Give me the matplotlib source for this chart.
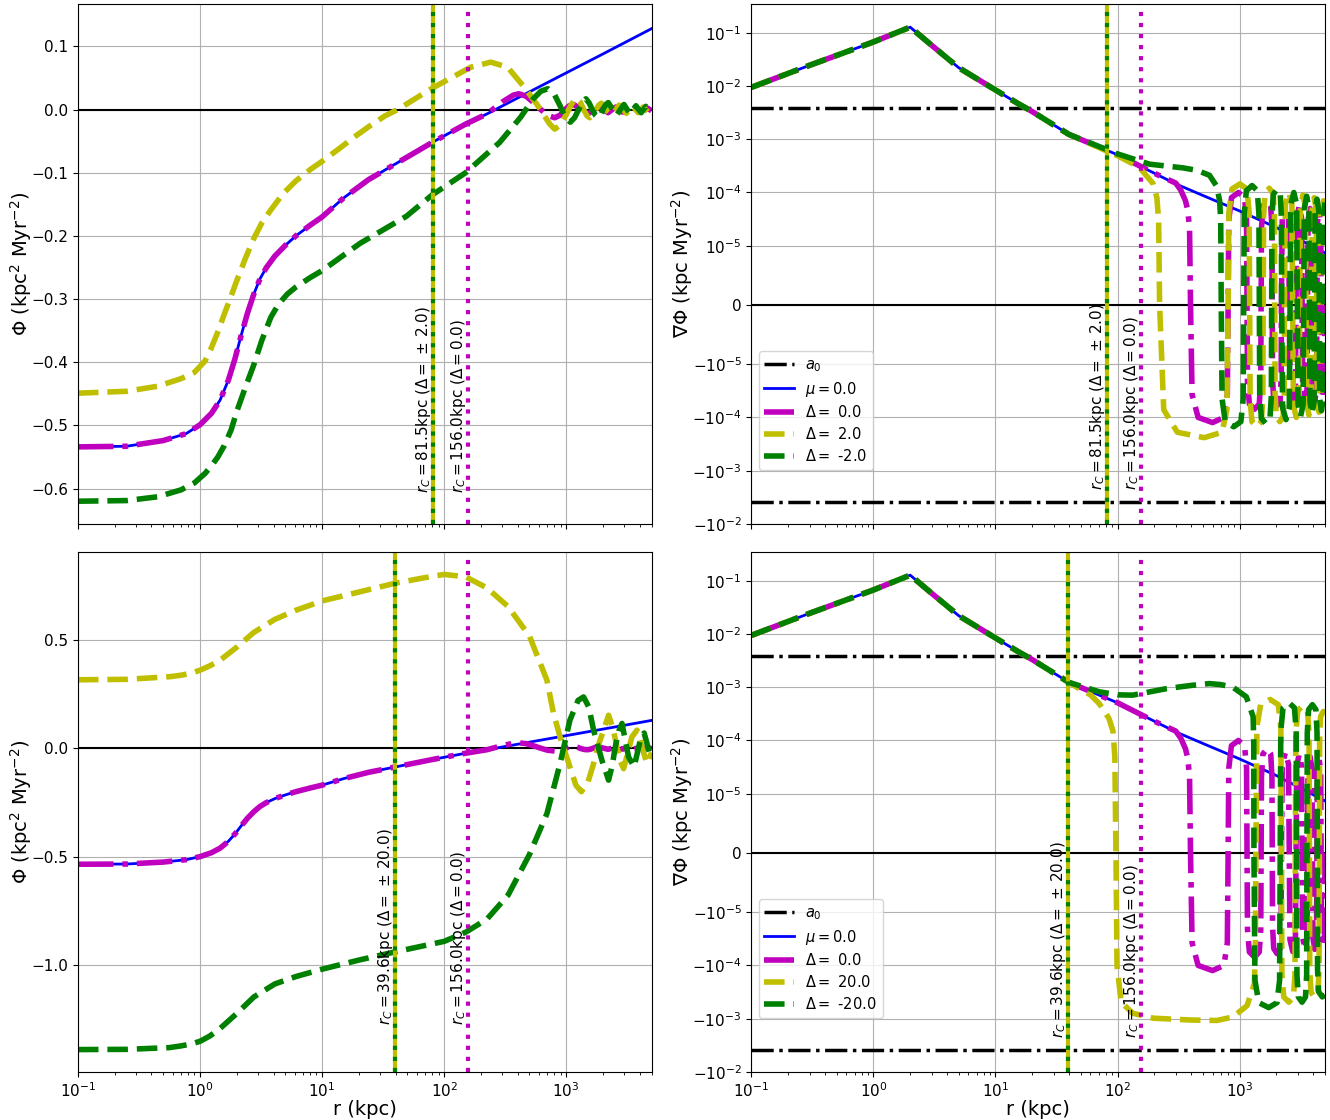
import numpy as np
import matplotlib
matplotlib.use('Agg')
import matplotlib.pyplot as plt

# ---------------- potential Phi (left column) ----------------
phi_r_mu = [0.1, 0.25, 0.5, 0.77, 1.0, 1.24, 1.46, 1.71, 1.93, 2.17, 2.45, 2.76, 3.1, 3.5, 4.1,
            5.0, 6.1, 8.0, 10, 15, 24, 49, 80, 150, 224, 500, 1000, 2000, 5000]
phi_mu = [-0.534, -0.533, -0.524, -0.513, -0.499, -0.481, -0.460, -0.428, -0.395, -0.358, -0.322,
          -0.292, -0.268, -0.250, -0.232, -0.215, -0.200, -0.183, -0.170, -0.140, -0.111, -0.076,
          -0.052, -0.023, -0.007, 0.028, 0.058, 0.088, 0.128]
n_phi_head = 25  # Delta = 0 follows mu = 0 up to r = 224 kpc

phi_r_d0_tail = [300, 370, 410, 470, 540, 620, 700, 805, 890, 980, 1060, 1150, 1240, 1325, 1410,
                 1500, 1590, 1675, 1760, 1850, 2025, 2200, 2375, 2550, 2725, 2900, 3075, 3250,
                 3425, 3600, 3775, 3950, 4125, 4300, 4475, 4650, 4825, 5000]
phi_d0_tail = [0.012, 0.023, 0.025, 0.021, 0.011, 0.0, -0.009, -0.013, -0.009, 0.0, 0.006, 0.008,
               0.004, -0.002, -0.006, -0.007, -0.004, 0.001, 0.005, 0.006, 0.0, -0.005, 0.0, 0.004,
               0.0, -0.004, 0.0, 0.003, 0.0, -0.003, 0.0, 0.003, 0.0, -0.002, 0.0, 0.002, 0.0, -0.002]

# top row: Delta = +2 / -2
phi_r_p2 = [0.1, 0.25, 0.45, 0.7, 0.9, 1.1, 1.24, 1.4, 1.58, 1.8, 2.0, 2.35, 2.76, 3.2, 3.8, 4.8,
            6.1, 8.0, 10, 14, 18.8, 25, 32.8, 41.7, 60, 82, 165, 241, 331, 455, 586, 733, 805, 900,
            1000, 1100, 1208, 1300, 1390, 1480, 1560, 1650, 1750, 1850, 1940, 2040, 2135, 2330,
            2525, 2720, 2915, 3110, 3305, 3500, 3695, 3890, 4085, 4280, 4475, 4670, 4865, 5000]
phi_p2 = [-0.449, -0.446, -0.438, -0.426, -0.416, -0.398, -0.377, -0.352, -0.324, -0.295, -0.271,
          -0.236, -0.204, -0.180, -0.159, -0.133, -0.113, -0.095, -0.082, -0.061, -0.042, -0.025,
          -0.010, 0.0, 0.019, 0.035, 0.067, 0.075, 0.067, 0.035, 0.006, -0.023, -0.031, -0.024,
          -0.008, 0.008, 0.018, 0.012, 0.0, -0.010, -0.013, -0.008, 0.0, 0.007, 0.010, 0.005,
          -0.001, -0.008, 0.0, 0.007, 0.0, -0.006, 0.0, 0.005, 0.0, -0.005, 0.0, 0.004, 0.0,
          -0.004, 0.0, 0.002]

phi_r_m2 = [0.1, 0.25, 0.45, 0.7, 0.9, 1.1, 1.24, 1.4, 1.58, 1.8, 2.0, 2.35, 2.76, 3.2, 3.8, 4.4,
            5.2, 6.1, 8.0, 10, 20.4, 49, 80, 150, 285, 424, 537, 620, 707, 800, 890, 980, 1080,
            1170, 1265, 1360, 1450, 1545, 1640, 1735, 1830, 1925, 2020, 2115, 2210, 2400, 2590,
            2780, 2970, 3160, 3350, 3540, 3730, 3920, 4110, 4300, 4490, 4680, 4870, 5000]
phi_m2 = [-0.620, -0.619, -0.613, -0.602, -0.591, -0.576, -0.564, -0.550, -0.532, -0.507, -0.478,
          -0.440, -0.404, -0.366, -0.329, -0.308, -0.292, -0.281, -0.266, -0.255, -0.212, -0.169,
          -0.135, -0.100, -0.052, -0.012, 0.017, 0.029, 0.033, 0.024, 0.006, -0.012, -0.020,
          -0.013, 0.0, 0.012, 0.017, 0.010, -0.001, -0.009, -0.013, -0.008, 0.002, 0.008, 0.011,
          0.0, -0.009, 0.0, 0.008, 0.0, -0.007, 0.0, 0.006, 0.0, -0.005, 0.0, 0.005, 0.0, -0.004,
          -0.002]

# bottom row: Delta = +20 / -20
phi_r_p20 = [0.1, 0.25, 0.56, 0.7, 0.85, 1.0, 1.2, 1.46, 2.0, 2.76, 4.1, 6.1, 10, 20.4, 40, 68,
             100, 150, 224, 334, 500, 695, 787, 891, 1072, 1200, 1330, 1500, 1676, 1850, 2024,
             2223, 2420, 2603, 2780, 2950, 3200, 3450, 3800, 4200, 4580, 5000]
phi_p20 = [0.315, 0.317, 0.329, 0.336, 0.346, 0.359, 0.379, 0.405, 0.465, 0.533, 0.593, 0.635,
           0.678, 0.720, 0.760, 0.784, 0.800, 0.789, 0.738, 0.652, 0.516, 0.313, 0.160, 0.052,
           -0.086, -0.170, -0.200, -0.160, -0.070, 0.020, 0.083, 0.152, 0.090, 0.006, -0.060,
           -0.094, -0.020, 0.052, 0.083, 0.0, -0.070, -0.020]

phi_r_m20 = [0.1, 0.25, 0.56, 0.7, 0.85, 1.0, 1.2, 1.46, 2.0, 2.76, 4.1, 6.1, 10, 20.4, 40, 100,
             150, 224, 334, 500, 695, 891, 1072, 1250, 1387, 1530, 1676, 1960, 2223, 2380, 2524,
             2700, 2864, 3240, 3600, 4100, 4350, 4700, 5000]
phi_m20 = [-1.387, -1.386, -1.378, -1.370, -1.361, -1.349, -1.325, -1.290, -1.221, -1.145,
           -1.085, -1.051, -1.017, -0.974, -0.937, -0.889, -0.847, -0.787, -0.676, -0.489,
           -0.301, -0.070, 0.129, 0.220, 0.236, 0.190, 0.083, -0.055, -0.147, -0.080, 0.006,
           0.080, 0.114, -0.040, -0.086, 0.052, 0.070, 0.0, -0.050]

# ---------------- gradient grad Phi (right column) ----------------
a0 = 3.87e-3

g_r_mu = [0.1, 0.3, 1.0, 2.0, 3.0, 5.0, 10, 15, 20, 40, 100, 200, 300, 500, 1000, 2000, 5000]
g_mu = [0.0094, 0.0244, 0.067, 0.127, 0.058, 0.022, 0.0084, 0.0048, 0.0033, 0.00123, 5.1e-4,
        2.3e-4, 1.45e-4, 8.8e-5, 4.5e-5, 2.2e-5, 8.8e-6]
n_g_head_d0 = 12  # Delta = 0 follows mu = 0 up to r = 200 kpc
n_g_head = 10     # Delta != 0 follow mu = 0 up to r = 40 kpc

g_r_d0_tail = [300, 330, 360, 377, 389, 396,
               408, 457, 600, 744, 793, 805,
               815, 857, 977, 1098, 1140, 1150,
               1160, 1202, 1325, 1448, 1490, 1500,
               1510, 1552, 1675, 1798, 1840, 1850,
               1860, 1902, 2025, 2148, 2190, 2200,
               2235, 2375, 2515, 2550, 2585, 2725, 2865, 2900,
               2935, 3075, 3215, 3250, 3285, 3425, 3565, 3600,
               3635, 3775, 3915, 3950, 3985, 4125, 4265, 4300,
               4335, 4475, 4615, 4650, 4685, 4825, 4965, 5000]
g_d0_tail = [1.5e-4, 1.1e-4, 7e-5, 4.5e-5, 2e-5, 0,
             -3.75e-5, -1.0e-4, -1.25e-4, -1.0e-4, -3.75e-5, 0,
             3e-5, 8e-5, 1.0e-4, 8e-5, 3e-5, 0,
             -2.1e-5, -5.6e-5, -7e-5, -5.6e-5, -2.1e-5, 0,
             2.1e-5, 5.6e-5, 7e-5, 5.6e-5, 2.1e-5, 0,
             -1.8e-5, -4.8e-5, -6e-5, -4.8e-5, -1.8e-5, 0,
             3.6e-5, 6e-5, 3.6e-5, 0, -3.3e-5, -5.5e-5, -3.3e-5, 0,
             3.3e-5, 5.5e-5, 3.3e-5, 0, -3e-5, -5e-5, -3e-5, 0,
             3e-5, 5e-5, 3e-5, 0, -3e-5, -5e-5, -3e-5, 0,
             2.7e-5, 4.5e-5, 2.7e-5, 0, -2.7e-5, -4.5e-5, -2.7e-5, 0]

g_r_p2_tail = [100, 150, 195, 210, 217, 221,
               239, 309, 513, 717, 787, 805,
               817, 865, 1006, 1148, 1196, 1208,
               1219, 1261, 1384, 1507, 1549, 1560,
               1571, 1617, 1750, 1883, 1929, 1940,
               1952, 1998, 2135, 2272, 2318, 2330,
               2369, 2525, 2681, 2720, 2759, 2915, 3071, 3110,
               3149, 3305, 3461, 3500, 3539, 3695, 3851, 3890,
               3929, 4085, 4241, 4280, 4319, 4475, 4631, 4670,
               4709, 4865, 5000]
g_p2_tail = [4.9e-4, 3.0e-4, 1.48e-4, 8e-5, 3e-5, 0,
             -7.2e-5, -1.9e-4, -2.4e-4, -1.9e-4, -7.2e-5, 0,
             4.35e-5, 1.16e-4, 1.45e-4, 1.16e-4, 4.35e-5, 0,
             -4.5e-5, -1.2e-4, -1.5e-4, -1.2e-4, -4.5e-5, 0,
             3.6e-5, 9.6e-5, 1.2e-4, 9.6e-5, 3.6e-5, 0,
             -3.6e-5, -9.6e-5, -1.2e-4, -9.6e-5, -3.6e-5, 0,
             6e-5, 1e-4, 6e-5, 0, -6e-5, -1e-4, -6e-5, 0,
             5.4e-5, 9e-5, 5.4e-5, 0, -5.4e-5, -9e-5, -5.4e-5, 0,
             4.8e-5, 8e-5, 4.8e-5, 0, -4.8e-5, -8e-5, -4.8e-5, 0,
             4.2e-5, 7e-5, 5e-5]

g_r_m2_tail = [100, 183, 343, 450, 567, 650, 686, 700, 707,
               718, 763, 894, 1024, 1069, 1080,
               1091, 1136, 1265, 1395, 1439, 1450,
               1461, 1507, 1640, 1773, 1819, 1830,
               1841, 1887, 2020, 2153, 2199, 2210,
               2248, 2400, 2552, 2590, 2628, 2780, 2932, 2970,
               3008, 3160, 3312, 3350, 3388, 3540, 3692, 3730,
               3768, 3920, 4072, 4110, 4148, 4300, 4452, 4490,
               4528, 4680, 4832, 4870, 4908, 5000]
g_m2_tail = [5.3e-4, 3.4e-4, 2.9e-4, 2.6e-4, 2.1e-4, 1.3e-4, 7e-5, 3e-5, 0,
             -4.5e-5, -1.2e-4, -1.5e-4, -1.2e-4, -4.5e-5, 0,
             4e-5, 1.08e-4, 1.35e-4, 1.08e-4, 4e-5, 0,
             -3.9e-5, -1.04e-4, -1.3e-4, -1.04e-4, -3.9e-5, 0,
             3.45e-5, 9.2e-5, 1.15e-4, 9.2e-5, 3.45e-5, 0,
             -6.6e-5, -1.1e-4, -6.6e-5, 0, 6e-5, 1e-4, 6e-5, 0,
             -5.7e-5, -9.5e-5, -5.7e-5, 0, 5.1e-5, 8.5e-5, 5.1e-5, 0,
             -5.1e-5, -8.5e-5, -5.1e-5, 0, 4.5e-5, 7.5e-5, 4.5e-5, 0,
             -4.5e-5, -7.5e-5, -4.5e-5, 0, 4.2e-5, 6.5e-5]

g_r_p20_tail = [50, 60, 71, 85, 91.7, 95, 97,
                99, 107, 133, 197, 400, 650, 880, 1150, 1320, 1345, 1360,
                1385, 1486, 1780, 2074, 2175, 2200,
                2220, 2299, 2530, 2761, 2840, 2860,
                2886, 2990, 3295, 3600, 3704, 3730,
                3753, 3846, 4115, 4385, 4477, 4500,
                4520, 4600, 4850, 5000]
g_p20_tail = [9.0e-4, 7.2e-4, 4.9e-4, 2.6e-4, 1.5e-4, 5e-5, 0,
              -1e-4, -4.9e-4, -7.9e-4, -9.8e-4, -1.06e-3, -1.08e-3, -9.3e-4, -5.7e-4, -2.2e-4,
              -5e-5, 0,
              1.8e-4, 4.7e-4, 5.9e-4, 4.7e-4, 1.8e-4, 0,
              -1.5e-4, -3.9e-4, -4.9e-4, -3.9e-4, -1.5e-4, 0,
              1.35e-4, 3.6e-4, 4.5e-4, 3.6e-4, 1.35e-4, 0,
              -1.2e-4, -3.2e-4, -4e-4, -3.2e-4, -1.2e-4, 0,
              1.05e-4, 2.8e-4, 3.5e-4, 3.3e-4]

g_r_m20_tail = [50, 71, 100, 133, 251, 400, 567, 700, 881, 1135, 1290, 1305, 1310,
                1335, 1436, 1730, 2024, 2125, 2150,
                2173, 2267, 2540, 2813, 2907, 2930,
                2949, 3025, 3245, 3466, 3541, 3560,
                3583, 3676, 3945, 4215, 4307, 4330,
                4350, 4430, 4750, 5000]
g_m20_tail = [1.05e-3, 8.2e-4, 7.2e-4, 7.1e-4, 9.4e-4, 1.08e-3, 1.17e-3, 1.12e-3, 1.0e-3, 6.6e-4,
              2.8e-4, 1e-4, 0,
              -1.9e-4, -5.0e-4, -6.2e-4, -5.0e-4, -1.9e-4, 0,
              1.5e-4, 4.1e-4, 5.1e-4, 4.1e-4, 1.5e-4, 0,
              -1.5e-4, -3.9e-4, -4.9e-4, -3.9e-4, -1.5e-4, 0,
              1.4e-4, 3.8e-4, 4.7e-4, 3.8e-4, 1.4e-4, 0,
              -1.2e-4, -3.1e-4, -3.9e-4, -3.6e-4]

rows = [
    dict(delta=2.0, rc=81.5, rc0=156.0,
         phi_p=(phi_r_p2, phi_p2), phi_m=(phi_r_m2, phi_m2),
         g_p=(g_r_p2_tail, g_p2_tail), g_m=(g_r_m2_tail, g_m2_tail),
         phi_lim=(-0.656, 0.167), txt_left=0.06),
    dict(delta=20.0, rc=39.6, rc0=156.0,
         phi_p=(phi_r_p20, phi_p20), phi_m=(phi_r_m20, phi_m20),
         g_p=(g_r_p20_tail, g_p20_tail), g_m=(g_r_m20_tail, g_m20_tail),
         phi_lim=(-1.49, 0.903), txt_left=0.09),
]

# Delta = 0 series: identical to mu = 0 at small r
phi_r_d0 = phi_r_mu[:n_phi_head] + phi_r_d0_tail
phi_d0 = phi_mu[:n_phi_head] + phi_d0_tail
g_r_d0 = g_r_mu[:n_g_head_d0] + g_r_d0_tail
g_d0 = g_mu[:n_g_head_d0] + g_d0_tail

fig, axes = plt.subplots(2, 2, sharex=True, figsize=(13.3, 11.2), dpi=100)
fig.subplots_adjust(left=0.0586, right=0.9962, bottom=0.0429, top=0.9964,
                    wspace=0.174, hspace=0.054)

for i, row in enumerate(rows):
    d = row['delta']
    # ---- left: potential ----
    ax = axes[i, 0]
    ax.axhline(0, color='k', lw=1.5)
    ax.plot(phi_r_mu, phi_mu, 'b-', lw=2)
    ax.plot(phi_r_d0, phi_d0, 'm-.', lw=4)
    ax.plot(*row['phi_p'], 'y--', lw=4)
    ax.plot(*row['phi_m'], 'g--', lw=4)
    ax.set_xscale('log')
    ax.set_xlim(0.1, 5000)
    ax.set_ylim(*row['phi_lim'])
    ax.set_ylabel(r'$\Phi$ (kpc$^2$ Myr$^{-2}$)', fontsize=14, labelpad=-2)
    ax.grid(True)

    # ---- right: gradient ----
    ax2 = axes[i, 1]
    ax2.axhline(a0, color='k', ls='-.', lw=2.5, label=r'$a_0$')
    ax2.axhline(-a0, color='k', ls='-.', lw=2.5)
    ax2.axhline(0, color='k', lw=1.5)
    ax2.plot(g_r_mu, g_mu, 'b-', lw=2, label=r'$\mu = 0.0$')
    ax2.plot(g_r_d0, g_d0, 'm-.', lw=4, label=r'$\Delta = $ 0.0')
    gr, gv = row['g_p']
    ax2.plot(g_r_mu[:n_g_head] + gr, g_mu[:n_g_head] + gv, 'y--', lw=4,
             label=r'$\Delta = $ {}'.format(d))
    gr, gv = row['g_m']
    ax2.plot(g_r_mu[:n_g_head] + gr, g_mu[:n_g_head] + gv, 'g--', lw=4,
             label=r'$\Delta = $ {}'.format(-d))
    ax2.set_xscale('log')
    ax2.set_yscale('symlog', linthresh=1e-5)
    ax2.set_xlim(0.1, 5000)
    ax2.set_ylim(-1.0e-2, 0.345)
    ax2.set_ylabel(r'$\nabla\Phi$ (kpc Myr$^{-2}$)', fontsize=14, labelpad=-2)
    ax2.grid(True)
    ax2.legend(loc='lower left', bbox_to_anchor=(0.0, 0.09), fontsize=10.5,
               labelspacing=0.4)

    for a, ty in ((ax, row['txt_left']), (ax2, 0.065)):
        a.axvline(row['rc'], color='y', lw=3)
        a.axvline(row['rc'], color='g', ls=':', lw=3)
        a.axvline(row['rc0'], color='m', ls=':', lw=3)
        tr = a.get_xaxis_transform()
        a.text(row['rc'], ty, r'$r_C = {}$kpc ($\Delta = $ $\pm$ {})'.format(row['rc'], d),
               rotation=90, ha='right', va='bottom', transform=tr, fontsize=11)
        a.text(row['rc0'], ty, r'$r_C = {}$kpc ($\Delta = 0.0$)'.format(row['rc0']),
               rotation=90, ha='right', va='bottom', transform=tr, fontsize=11)
        a.tick_params(labelsize=11)

for ax in axes[1]:
    ax.set_xlabel('r (kpc)', fontsize=14, labelpad=0)

plt.savefig('out.png')
